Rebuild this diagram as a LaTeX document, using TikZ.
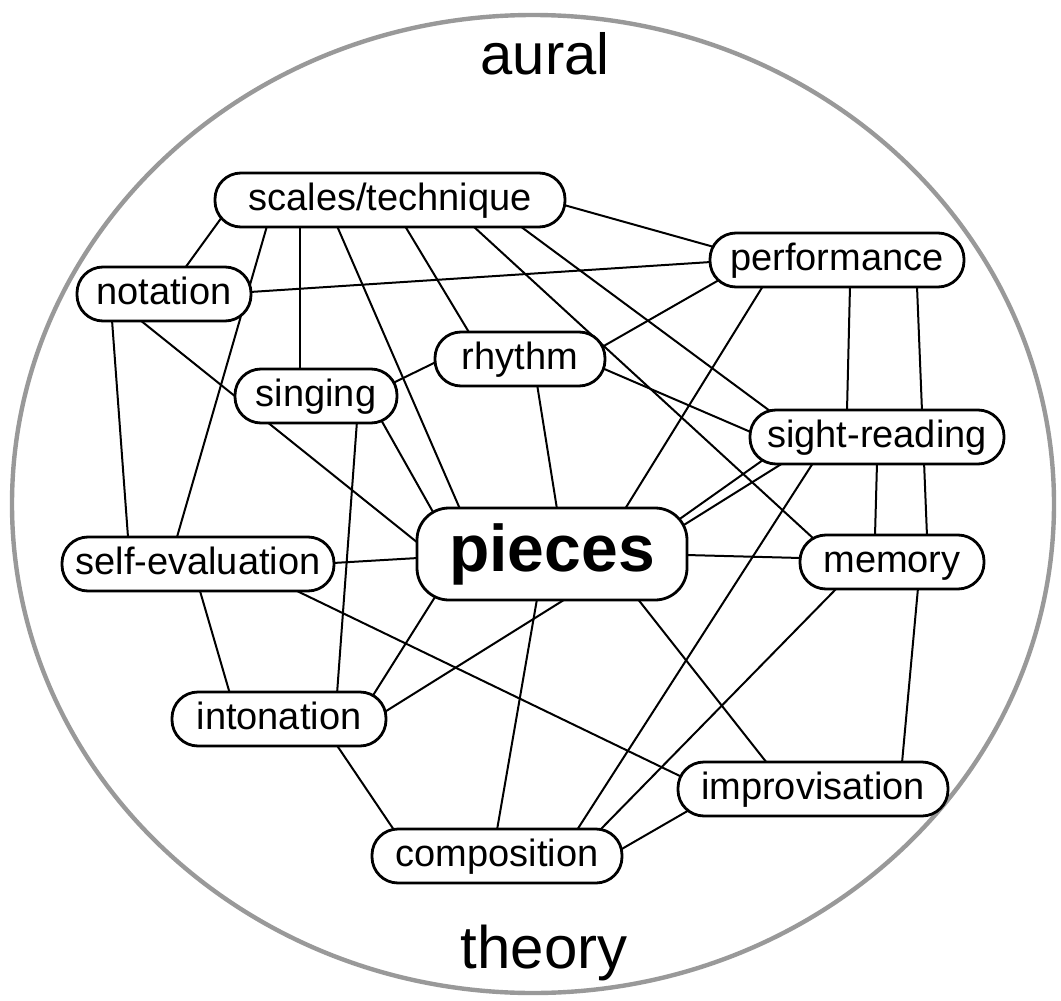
\documentclass[tikz,border=0pt]{standalone}
\usepackage{fontspec}
\setmainfont{Liberation Sans}
\usetikzlibrary{calc,backgrounds}
\tikzset{
  box/.style={draw, line width=1.4pt, fill=white, rounded corners=13pt,
    minimum height=27pt, inner xsep=0pt, inner ysep=0pt,
    text height=13.5pt, text depth=3.5pt, font=\fontsize{19}{22}\selectfont},
  bigbox/.style={box, rounded corners=16pt, minimum height=46pt,
    text height=24pt, text depth=7pt, font=\fontsize{33}{36}\selectfont\bfseries},
  link/.style={line width=1pt},
  rim/.style={draw=gray!80, line width=2.2pt},
}
\begin{document}
\begin{tikzpicture}[x=0.5pt,y=-0.5pt]
            \useasboundingbox (0,0) rectangle (1061,1001);

            % Outer circle
            \draw [rim] (533,504) ellipse [x radius=260.5pt, y radius=244.5pt];
            \node (aural) at (545,75) [anchor=base, font=\fontsize{29}{32}\selectfont] {aural};
            \node (theory) at (544,968) [anchor=base, font=\fontsize{30}{33}\selectfont] {theory};

            % Boxes
            \node (scales) at (390,200) [box, minimum width=175pt] {scales/technique};
            \node (performance) at (837,260) [box, minimum width=127pt] {performance};
            \node (notation) at (164,294) [box, minimum width=87pt] {notation};
            \node (rhythm) at (520,359) [box, minimum width=85pt] {rhythm};
            \node (singing) at (316,396) [box, minimum width=81pt] {singing};
            \node (sightread) at (877,437) [box, minimum width=127pt] {sight-reading};
            \node (selfeval) at (198,564) [box, minimum width=136pt] {self-evaluation};
            \node (pieces) at (552,554) [bigbox, minimum width=135pt] {pieces};
            \node (memory) at (892,562) [box, minimum width=92pt] {memory};
            \node (intonation) at (279,719) [box, minimum width=107pt] {intonation};
            \node (improvisation) at (813,789) [box, minimum width=135pt] {improvisation};
            \node (composition) at (497,856) [box, minimum width=125pt] {composition};

            \begin{scope}[on background layer]
            % Drawing lines from scales
            \draw [link] ($(scales)+(-168,17)$) -- ($(notation)+(21,-26)$);
            \draw [link] ($(scales)+(-123,26)$) -- ($(selfeval)+(-21,-27)$);
            \draw [link] ($(scales)+(-90,26)$) -- ($(singing)+(-16,-25)$);
            \draw [link] ($(scales)+(-53,26)$) -- ($(pieces)+(-92,-45)$);
            \draw [link] ($(scales)+(15,26)$) -- ($(rhythm)+(-50,-25)$);
            \draw [link] ($(scales)+(83,26)$) -- ($(memory)+(-78,-23)$);
            \draw [link] ($(scales)+(130,26)$) -- ($(sightread)+(-107,-26)$);
            \draw [link] ($(scales)+(174,5)$) -- ($(performance)+(-123,-13)$);

            % Drawing lines from notation
            \draw [link] ($(notation)+(86,-2)$) -- ($(performance)+(-126,2)$);
            \draw [link] ($(notation)+(-52,26)$) -- ($(selfeval)+(-70,-27)$);
            \draw [link] ($(notation)+(-24,26)$) -- ($(pieces)+(-134,-11)$);

            % Drawing lines from singing and rhythm
            \draw [link] ($(singing)+(77,-13)$) -- ($(rhythm)+(-84,3)$);
            \draw [link] ($(singing)+(41,25)$) -- ($(intonation)+(58,-25)$);
            \draw [link] ($(singing)+(64,22)$) -- ($(pieces)+(-119,-42)$);
            \draw [link] ($(rhythm)+(17,25)$) -- ($(pieces)+(5,-45)$);
            \draw [link] ($(rhythm)+(82,-12)$) -- ($(performance)+(-118,20)$);
            \draw [link] ($(rhythm)+(82,9)$) -- ($(sightread)+(-124,-4)$);

            % Drawing lines from performance and sight-reading
            \draw [link] ($(performance)+(-74,26)$) -- ($(pieces)+(73,-45)$);
            \draw [link] ($(performance)+(13,26)$) -- ($(sightread)+(-30,-26)$);
            \draw [link] ($(performance)+(80,26)$) -- ($(memory)+(35,-26)$);
            \draw [link] ($(sightread)+(0,26)$) -- ($(memory)+(-17,-26)$);
            \draw [link] ($(pieces)+(122,-31)$) -- ($(sightread)+(-114,23)$);
            \draw [link] ($(sightread)+(-94,26)$) -- ($(intonation)+(104,-6)$);
            \draw [link] ($(sightread)+(-64,26)$) -- ($(composition)+(80,-26)$);

            % Drawing lines from pieces
            \draw [link] ($(pieces)+(-134,4)$) -- ($(selfeval)+(135,-1)$);
            \draw [link] ($(pieces)+(-117,43)$) -- ($(intonation)+(93,-22)$);
            \draw [link] ($(pieces)+(-15,45)$) -- ($(composition)+(0,-26)$);
            \draw [link] ($(pieces)+(85,44)$) -- ($(improvisation)+(-46,-26)$);
            \draw [link] ($(pieces)+(134,1)$) -- ($(memory)+(-91,-4)$);

            % Drawing lines at the bottom
            \draw [link] ($(selfeval)+(2,27)$) -- ($(intonation)+(-49,-25)$);
            \draw [link] ($(selfeval)+(99,27)$) -- ($(improvisation)+(-131,-12)$);
            \draw [link] ($(memory)+(-55,26)$) -- ($(composition)+(103,-26)$);
            \draw [link] ($(memory)+(26,26)$) -- ($(improvisation)+(89,-26)$);
            \draw [link] ($(composition)+(123,-6)$) -- ($(improvisation)+(-122,20)$);
            \draw [link] ($(intonation)+(57,25)$) -- ($(composition)+(-103,-26)$);
            \end{scope}
\end{tikzpicture}
\end{document}
